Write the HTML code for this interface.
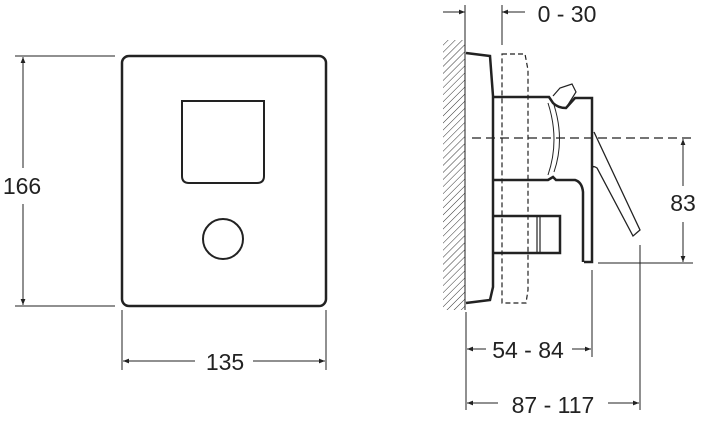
<!DOCTYPE html>
<html><head><style>body{margin:0;background:#fff}svg{display:block}</style></head><body>
<svg width="713" height="438" viewBox="0 0 713 438" xmlns="http://www.w3.org/2000/svg" font-family="Liberation Sans, Arial, sans-serif" fill="none" stroke="#222">
<defs>
<marker id="a" viewBox="0 0 10 10" refX="10" refY="5" markerWidth="12" markerHeight="6" orient="auto-start-reverse" markerUnits="userSpaceOnUse"><path d="M0,1 L10,5 L0,9 z" fill="#222" stroke="none"/></marker>
<pattern id="h" width="5" height="5" patternUnits="userSpaceOnUse" patternTransform="rotate(45)"><line x1="0" y1="0" x2="0" y2="5" stroke="#333" stroke-width="1"/></pattern>
</defs>
<rect x="122" y="56" width="204" height="250" rx="7" stroke-width="2.5"/>
<path d="M182,101 H264 V176 Q264,183 257,183 H189 Q182,183 182,176 Z" stroke-width="2"/>
<circle cx="223" cy="239" r="20" stroke-width="2"/>
<g stroke-width="1">
<line x1="15" y1="56" x2="115" y2="56"/><line x1="15" y1="306" x2="115" y2="306"/>
<line x1="23" y1="57" x2="23" y2="168" marker-start="url(#a)"/>
<line x1="23" y1="204" x2="23" y2="305" marker-end="url(#a)"/>
<line x1="122" y1="310" x2="122" y2="370"/><line x1="326" y1="310" x2="326" y2="370"/>
<line x1="123" y1="361" x2="195" y2="361" marker-start="url(#a)"/>
<line x1="253" y1="361" x2="325" y2="361" marker-end="url(#a)"/>
</g>
<g fill="#222" stroke="none" font-size="23">
<text x="22" y="194" text-anchor="middle">166</text>
<text x="225" y="370" text-anchor="middle">135</text>
<text x="567" y="22" text-anchor="middle">0 - 30</text>
<text x="683" y="211" text-anchor="middle">83</text>
<text x="528" y="358" text-anchor="middle">54 - 84</text>
<text x="553" y="413" text-anchor="middle">87 - 117</text>
</g>
<rect x="443" y="40" width="22" height="270" fill="url(#h)" stroke="none"/>
<line x1="465" y1="40" x2="465" y2="310" stroke-width="1"/>
<path d="M466,53 L490,56 L493,96 L493,287 L490,300 L466,303" stroke-width="2.5"/>
<path d="M502,54 H525 L528,70 V290 L526,303 H502 Z" stroke-width="1.2" stroke-dasharray="5,3"/>
<line x1="472" y1="138" x2="693" y2="138" stroke-width="1.2" stroke-dasharray="9,5"/>
<path d="M493,97 H549 L553,103 Q558,108 566,108 L575,98 H592 V262 H584" stroke-width="2.5"/>
<path d="M553,96 L560,88 L572,84 L576,92 L566,108" stroke-width="1.2"/>
<path d="M493,180 H548 L553,177 L556,180 H575 Q582,182 583,192 V262" stroke-width="2.5"/>
<path d="M493,216 H560 V253 H493" stroke-width="2.5"/>
<path d="M537,217 V252 M540,217 V252" stroke-width="1.2"/>
<path d="M548,103 Q560,140 548,175 M554,105 Q565,140 554,172" stroke-width="1"/>
<path d="M594,132 L640,230 L633,236 L597,168 Q592,165 593,168" stroke-width="1.3"/>
<g stroke-width="1">
<line x1="465" y1="5" x2="465" y2="45"/><line x1="502" y1="5" x2="502" y2="45"/>
<line x1="443" y1="12" x2="465" y2="12" marker-end="url(#a)"/>
<line x1="525" y1="12" x2="502" y2="12" marker-end="url(#a)"/>
<line x1="598" y1="263" x2="693" y2="263"/>
<line x1="683" y1="139" x2="683" y2="186" marker-start="url(#a)"/>
<line x1="683" y1="222" x2="683" y2="262" marker-end="url(#a)"/>
<line x1="466" y1="312" x2="466" y2="410"/>
<line x1="592" y1="270" x2="592" y2="357"/>
<line x1="640" y1="245" x2="640" y2="410"/>
<line x1="467" y1="349" x2="486" y2="349" marker-start="url(#a)"/>
<line x1="572" y1="349" x2="591" y2="349" marker-end="url(#a)"/>
<line x1="467" y1="403" x2="498" y2="403" marker-start="url(#a)"/>
<line x1="608" y1="403" x2="639" y2="403" marker-end="url(#a)"/>
</g>
</svg>
</body></html>
